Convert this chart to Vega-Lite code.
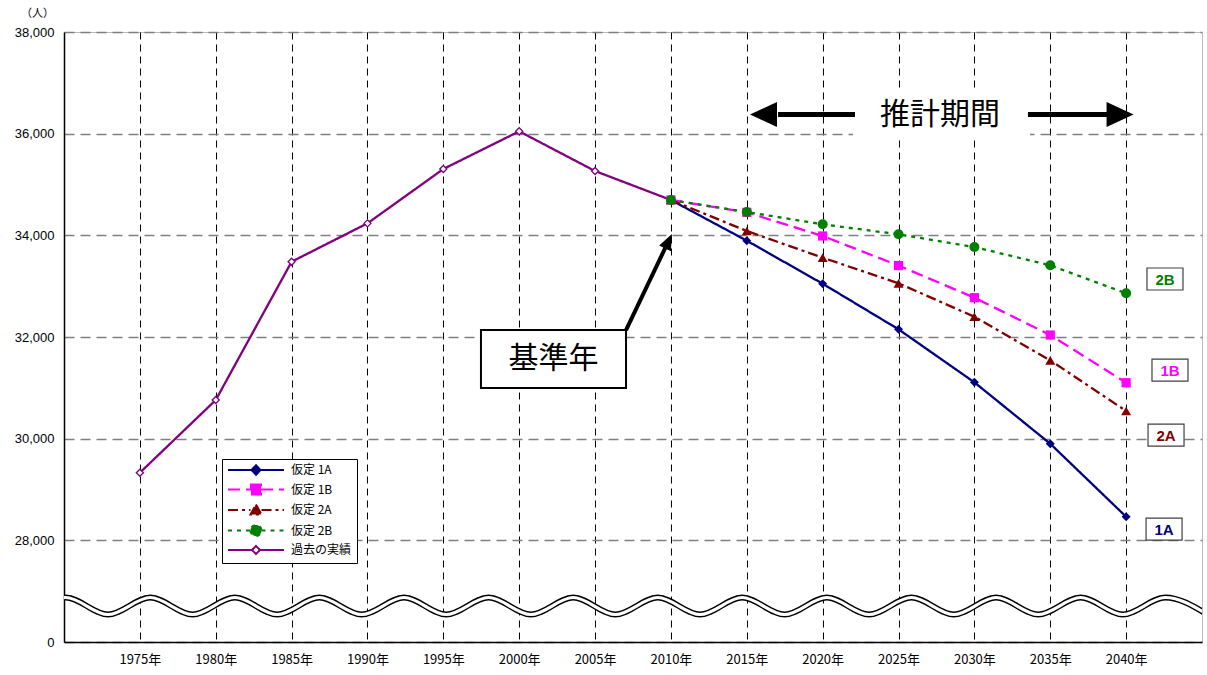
{
  "$schema": "https://vega.github.io/schema/vega-lite/v6.json",
  "width": 1138,
  "height": 610,
  "autosize": {"type": "none"},
  "padding": {"left": 64, "top": 32, "right": 5, "bottom": 33},
  "background": "white",
  "config": {
    "view": {"stroke": "#bbbbbb", "strokeWidth": 1},
    "font": "Noto Sans CJK JP",
    "legend": {
      "orient": "none",
      "legendX": 158,
      "legendY": 427,
      "title": null,
      "strokeColor": "black",
      "fillColor": "white",
      "padding": 5,
      "labelFontSize": 12,
      "labelFont": "Noto Sans CJK JP",
      "labelColor": "black",
      "labelOffset": 52,
      "rowPadding": 1.5,
      "symbolSize": 100,
      "symbolStrokeWidth": 2,
      "symbolOpacity": 1
    }
  },
  "datasets": {
    "series": [
      {"series": "過去の実績", "year": 1975, "value": 29330},
      {"series": "過去の実績", "year": 1980, "value": 30760},
      {"series": "過去の実績", "year": 1985, "value": 33481},
      {"series": "過去の実績", "year": 1990, "value": 34236},
      {"series": "過去の実績", "year": 1995, "value": 35305},
      {"series": "過去の実績", "year": 2000, "value": 36046},
      {"series": "過去の実績", "year": 2005, "value": 35265},
      {"series": "過去の実績", "year": 2010, "value": 34695},
      {"series": "仮定 1A", "year": 2010, "value": 34695},
      {"series": "仮定 1A", "year": 2015, "value": 33894},
      {"series": "仮定 1A", "year": 2020, "value": 33048},
      {"series": "仮定 1A", "year": 2025, "value": 32151},
      {"series": "仮定 1A", "year": 2030, "value": 31108},
      {"series": "仮定 1A", "year": 2035, "value": 29900},
      {"series": "仮定 1A", "year": 2040, "value": 28464},
      {"series": "仮定 1B", "year": 2010, "value": 34695},
      {"series": "仮定 1B", "year": 2015, "value": 34452},
      {"series": "仮定 1B", "year": 2020, "value": 33987},
      {"series": "仮定 1B", "year": 2025, "value": 33406},
      {"series": "仮定 1B", "year": 2030, "value": 32773},
      {"series": "仮定 1B", "year": 2035, "value": 32039},
      {"series": "仮定 1B", "year": 2040, "value": 31100},
      {"series": "仮定 2A", "year": 2010, "value": 34695},
      {"series": "仮定 2A", "year": 2015, "value": 34085},
      {"series": "仮定 2A", "year": 2020, "value": 33560},
      {"series": "仮定 2A", "year": 2025, "value": 33056},
      {"series": "仮定 2A", "year": 2030, "value": 32399},
      {"series": "仮定 2A", "year": 2035, "value": 31541},
      {"series": "仮定 2A", "year": 2040, "value": 30544},
      {"series": "仮定 2B", "year": 2010, "value": 34695},
      {"series": "仮定 2B", "year": 2015, "value": 34459},
      {"series": "仮定 2B", "year": 2020, "value": 34217},
      {"series": "仮定 2B", "year": 2025, "value": 34020},
      {"series": "仮定 2B", "year": 2030, "value": 33770},
      {"series": "仮定 2B", "year": 2035, "value": 33410},
      {"series": "仮定 2B", "year": 2040, "value": 32859}
    ],
    "wave": [
      {"year": 1967.32, "value": 26541},
      {"year": 1970.11, "value": 26875},
      {"year": 1972.90, "value": 26541},
      {"year": 1975.69, "value": 26875},
      {"year": 1978.47, "value": 26541},
      {"year": 1981.26, "value": 26875},
      {"year": 1984.05, "value": 26541},
      {"year": 1986.83, "value": 26875},
      {"year": 1989.62, "value": 26541},
      {"year": 1992.41, "value": 26875},
      {"year": 1995.19, "value": 26541},
      {"year": 1997.98, "value": 26875},
      {"year": 2000.77, "value": 26541},
      {"year": 2003.56, "value": 26875},
      {"year": 2006.34, "value": 26541},
      {"year": 2009.13, "value": 26875},
      {"year": 2011.92, "value": 26541},
      {"year": 2014.70, "value": 26875},
      {"year": 2017.49, "value": 26541},
      {"year": 2020.28, "value": 26875},
      {"year": 2023.06, "value": 26541},
      {"year": 2025.85, "value": 26875},
      {"year": 2028.64, "value": 26541},
      {"year": 2031.43, "value": 26875},
      {"year": 2034.21, "value": 26541},
      {"year": 2037.00, "value": 26875},
      {"year": 2039.79, "value": 26541},
      {"year": 2042.57, "value": 26875},
      {"year": 2045.36, "value": 26541}
    ],
    "labels": [
      {"label": "2B", "series": "仮定 2B", "year": 2042.56, "value": 33141},
      {"label": "1B", "series": "仮定 1B", "year": 2042.89, "value": 31350},
      {"label": "2A", "series": "仮定 2A", "year": 2042.63, "value": 30071},
      {"label": "1A", "series": "仮定 1A", "year": 2042.50, "value": 28222}
    ]
  },
  "encoding": {
    "x": {
      "field": "year",
      "type": "quantitative",
      "scale": {"domain": [1970, 2045], "nice": false, "zero": false},
      "axis": {
        "values": [1975, 1980, 1985, 1990, 1995, 2000, 2005, 2010, 2015, 2020, 2025, 2030, 2035, 2040],
        "labelExpr": "datum.value + '年'",
        "title": null,
        "ticks": false,
        "domainColor": "black",
        "domainWidth": 1.5,
        "gridColor": "black",
        "gridDash": [7, 5],
        "gridWidth": 1,
        "labelFontSize": 13,
        "labelPadding": 11,
        "labelColor": "black",
        "labelFont": "Noto Sans CJK JP",
        "labelFlush": false
      }
    },
    "y": {
      "field": "value",
      "type": "quantitative",
      "scale": {"domain": [26000, 38000], "nice": false, "zero": false},
      "axis": {
        "values": [26000, 28000, 30000, 32000, 34000, 36000, 38000],
        "labelExpr": "datum.value == 26000 ? '0' : format(datum.value, ',')",
        "title": "（人）",
        "titleAngle": 0,
        "titleX": -27,
        "titleY": -14,
        "titleAlign": "center",
        "titleBaseline": "bottom",
        "titleFontSize": 11,
        "titleFontWeight": "normal",
        "titleColor": "black",
        "ticks": false,
        "labelPadding": 10,
        "labelFontSize": 13,
        "labelFont": "Liberation Sans",
        "labelColor": "black",
        "gridColor": "#7f7f7f",
        "gridDash": [10, 6],
        "gridWidth": 1.3,
        "domainColor": "black",
        "domainWidth": 1.5
      }
    }
  },
  "layer": [
    {
      "data": {"name": "wave"},
      "mark": {"type": "line", "interpolate": "monotone", "color": "black", "strokeWidth": 6, "clip": true},
      "encoding": {}
    },
    {
      "data": {"name": "wave"},
      "mark": {"type": "line", "interpolate": "monotone", "color": "white", "strokeWidth": 3.2, "clip": true},
      "encoding": {}
    },
    {
      "data": {"values": [{"year": 2022.0, "year2": 2033.66, "value": 35954, "value2": 36859}]},
      "mark": {"type": "rect", "color": "white"},
      "encoding": {"x2": {"field": "year2"}, "y2": {"field": "value2"}}
    },
    {
      "data": {"name": "series"},
      "mark": {"type": "line", "strokeWidth": 2.3},
      "encoding": {
        "stroke": {
          "field": "series",
          "type": "nominal",
          "scale": {
            "domain": ["仮定 1A", "仮定 1B", "仮定 2A", "仮定 2B", "過去の実績"],
            "range": ["#000080", "#ff00ff", "#800000", "#008000", "#800080"]
          }
        },
        "strokeDash": {
          "field": "series",
          "type": "nominal",
          "scale": {
            "domain": ["仮定 1A", "仮定 1B", "仮定 2A", "仮定 2B", "過去の実績"],
            "range": [[1, 0], [12, 6], [10, 4, 3, 4], [4, 5], [1, 0]]
          }
        }
      }
    },
    {
      "data": {"name": "series"},
      "transform": [{"filter": "datum.year == 2010"}],
      "mark": {"type": "point", "filled": true, "strokeWidth": 2, "size": 100},
      "encoding": {
        "fill": {
          "field": "series",
          "type": "nominal",
          "scale": {
            "domain": ["仮定 1A", "仮定 1B", "仮定 2A", "仮定 2B", "過去の実績"],
            "range": ["#000080", "#ff00ff", "#800000", "#008000", "#ffffff"]
          }
        },
        "stroke": {"field": "series", "type": "nominal"},
        "shape": {
          "field": "series",
          "type": "nominal",
          "scale": {
            "domain": ["仮定 1A", "仮定 1B", "仮定 2A", "仮定 2B", "過去の実績"],
            "range": [
              "M-1,0H3.7M4.6,-0.95L5.5,0L4.6,0.95L3.7,0ZM5.5,0H10.2",
              "M-1,0H3.6M3.6,-1H5.6V1H3.6ZM5.6,0H10.2",
              "M-1,0H3.5M4.6,-1.1L5.7,0.9H3.5ZM5.7,0H10.2",
              "M-1,0H3.5M3.5,0A1.1,1.1,0,1,0,5.7,0A1.1,1.1,0,1,0,3.5,0ZM5.7,0H10.2",
              "M-1,0H3.8M4.6,-0.8L5.4,0L4.6,0.8L3.8,0ZM5.4,0H10.2"
            ]
          }
        },
        "strokeDash": {"field": "series", "type": "nominal"},
        "opacity": {"value": 0}
      }
    },
    {
      "data": {"name": "series"},
      "transform": [{"filter": "datum.series === '過去の実績'"}],
      "mark": {"type": "point", "shape": "diamond", "fill": "white", "stroke": "#800080", "strokeWidth": 1.3, "size": 50, "opacity": 1}
    },
    {
      "data": {"name": "series"},
      "transform": [{"filter": "datum.series === '仮定 1A'"}],
      "mark": {"type": "point", "shape": "diamond", "filled": true, "color": "#000080", "size": 80, "opacity": 1}
    },
    {
      "data": {"name": "series"},
      "transform": [{"filter": "datum.series === '仮定 1B'"}],
      "mark": {"type": "point", "shape": "square", "filled": true, "color": "#ff00ff", "size": 85, "opacity": 1}
    },
    {
      "data": {"name": "series"},
      "transform": [{"filter": "datum.series === '仮定 2A'"}],
      "mark": {"type": "point", "shape": "triangle-up", "filled": true, "color": "#800000", "size": 100, "opacity": 1}
    },
    {
      "data": {"name": "series"},
      "transform": [{"filter": "datum.series === '仮定 2B'"}],
      "mark": {"type": "point", "shape": "circle", "filled": true, "color": "#008000", "size": 100, "opacity": 1}
    },
    {
      "data": {"name": "labels"},
      "mark": {"type": "point", "shape": "M-3.6,-2.2H3.6V2.2H-3.6Z", "size": 100, "fill": "white", "stroke": "#404040", "strokeWidth": 1.2, "opacity": 1}
    },
    {
      "data": {"name": "labels"},
      "mark": {"type": "text", "font": "Liberation Sans", "fontWeight": "bold", "fontSize": 15, "align": "center", "baseline": "middle", "dy": 1},
      "encoding": {
        "text": {"field": "label"},
        "fill": {"field": "series", "type": "nominal"}
      }
    },
    {
      "data": {"values": [{"year": 2027.73, "value": 36367, "t": "推計期間"}]},
      "mark": {"type": "text", "fontSize": 30, "font": "Noto Sans CJK JP", "color": "black", "align": "center", "baseline": "middle"},
      "encoding": {"text": {"field": "t"}}
    },
    {
      "data": {"values": [
        {"year": 2017.06, "year2": 2022.13, "value": 36377},
        {"year": 2033.53, "year2": 2038.94, "value": 36377}
      ]},
      "mark": {"type": "rule", "color": "black", "strokeWidth": 5},
      "encoding": {"x2": {"field": "year2"}}
    },
    {
      "data": {"values": [{"year": 2016.10, "value": 36377}]},
      "mark": {"type": "point", "shape": "M-2.7,0L2.7,-2.5L2.7,2.5Z", "size": 100, "filled": true, "color": "black", "opacity": 1}
    },
    {
      "data": {"values": [{"year": 2039.60, "value": 36377}]},
      "mark": {"type": "point", "shape": "M2.7,0L-2.7,-2.5L-2.7,2.5Z", "size": 100, "filled": true, "color": "black", "opacity": 1}
    },
    {
      "data": {"values": [{"year": 1997.48, "year2": 2007.04, "value": 32137, "value2": 30996}]},
      "mark": {"type": "rect", "fill": "white", "stroke": "black", "strokeWidth": 2},
      "encoding": {"x2": {"field": "year2"}, "y2": {"field": "value2"}}
    },
    {
      "data": {"values": [{"year": 2002.26, "value": 31567, "t": "基準年"}]},
      "mark": {"type": "text", "fontSize": 30, "font": "Noto Sans CJK JP", "color": "black", "align": "center", "baseline": "middle"},
      "encoding": {"text": {"field": "t"}}
    },
    {
      "data": {"values": [{"year": 2007.04, "year2": 2009.81, "value": 32137, "value2": 33867}]},
      "mark": {"type": "rule", "color": "black", "strokeWidth": 4},
      "encoding": {"x2": {"field": "year2"}, "y2": {"field": "value2"}}
    },
    {
      "data": {"values": [{"year": 2009.81, "value": 33867}]},
      "mark": {"type": "point", "shape": "M0,-1.8L1.3,1.4L-1.3,1.4Z", "size": 100, "filled": true, "color": "black", "opacity": 1, "angle": 25.6}
    }
  ]
}
